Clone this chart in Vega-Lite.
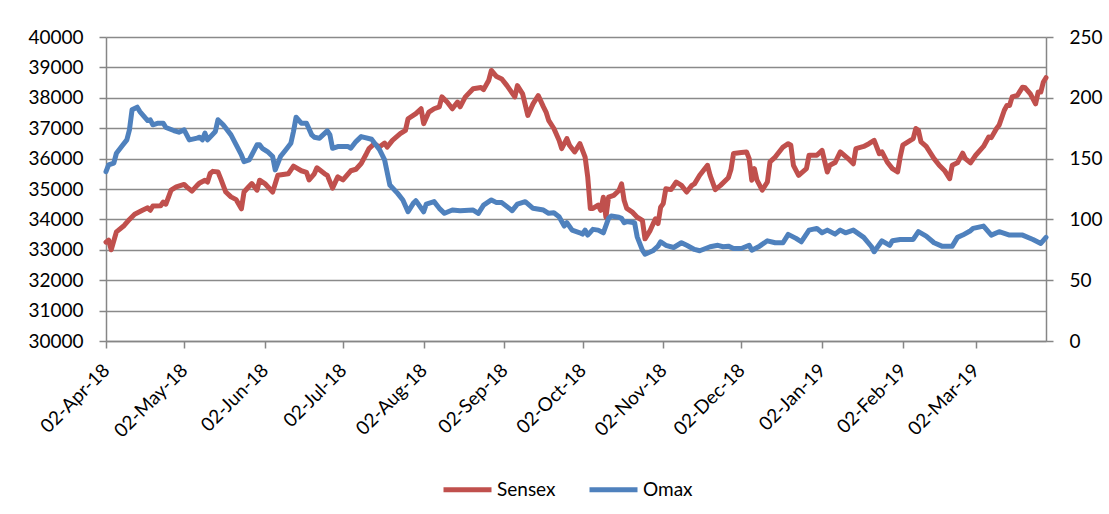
{
"$schema": "https://vega.github.io/schema/vega-lite/v6.json",
"width": 940, "height": 304,
"autosize": {"type": "none"},
"padding": {"left": 106, "top": 37, "right": 63, "bottom": 173},
"background": "white",
"config": {
  "font": "Lato",
  "view": {"stroke": null},
  "axis": {"domainColor": "#868686", "domainWidth": 1.5, "tickColor": "#868686", "tickWidth": 1.5, "gridColor": "#8a8a8a", "gridWidth": 1.5, "labelColor": "#000000", "labelFont": "Lato", "labelFontSize": 19, "title": null, "labelPadding": 16, "tickSize": 7},
  "legend": {"orient": "none", "legendX": 335, "legendY": 426, "direction": "horizontal", "title": null, "symbolType": "stroke", "symbolSize": 2304, "symbolStrokeWidth": 5, "labelFont": "Lato", "labelFontSize": 19, "labelColor": "#000000", "columnPadding": 23, "labelOffset": 3, "padding": 0}
},
"data": {"values": [
{"date":"2018-04-02","series":"Sensex","value":33250},{"date":"2018-04-03","series":"Sensex","value":33320},{"date":"2018-04-04","series":"Sensex","value":33000},{"date":"2018-04-06","series":"Sensex","value":33590},{"date":"2018-04-09","series":"Sensex","value":33800},{"date":"2018-04-11","series":"Sensex","value":34000},{"date":"2018-04-13","series":"Sensex","value":34170},{"date":"2018-04-16","series":"Sensex","value":34300},{"date":"2018-04-18","series":"Sensex","value":34380},{"date":"2018-04-19","series":"Sensex","value":34300},{"date":"2018-04-20","series":"Sensex","value":34440},{"date":"2018-04-23","series":"Sensex","value":34450},{"date":"2018-04-24","series":"Sensex","value":34570},{"date":"2018-04-25","series":"Sensex","value":34500},{"date":"2018-04-27","series":"Sensex","value":34960},{"date":"2018-04-29","series":"Sensex","value":35070},{"date":"2018-05-02","series":"Sensex","value":35150},{"date":"2018-05-03","series":"Sensex","value":35070},{"date":"2018-05-05","series":"Sensex","value":34930},{"date":"2018-05-07","series":"Sensex","value":35120},{"date":"2018-05-08","series":"Sensex","value":35200},{"date":"2018-05-10","series":"Sensex","value":35290},{"date":"2018-05-11","series":"Sensex","value":35230},{"date":"2018-05-12","series":"Sensex","value":35510},{"date":"2018-05-13","series":"Sensex","value":35580},{"date":"2018-05-15","series":"Sensex","value":35560},{"date":"2018-05-16","series":"Sensex","value":35350},{"date":"2018-05-18","series":"Sensex","value":34900},{"date":"2018-05-20","series":"Sensex","value":34740},{"date":"2018-05-22","series":"Sensex","value":34650},{"date":"2018-05-24","series":"Sensex","value":34350},{"date":"2018-05-25","series":"Sensex","value":34900},{"date":"2018-05-27","series":"Sensex","value":35090},{"date":"2018-05-28","series":"Sensex","value":35180},{"date":"2018-05-30","series":"Sensex","value":34960},{"date":"2018-05-31","series":"Sensex","value":35290},{"date":"2018-06-02","series":"Sensex","value":35180},{"date":"2018-06-05","series":"Sensex","value":34900},{"date":"2018-06-07","series":"Sensex","value":35450},{"date":"2018-06-11","series":"Sensex","value":35500},{"date":"2018-06-13","series":"Sensex","value":35750},{"date":"2018-06-16","series":"Sensex","value":35600},{"date":"2018-06-18","series":"Sensex","value":35550},{"date":"2018-06-19","series":"Sensex","value":35300},{"date":"2018-06-21","series":"Sensex","value":35500},{"date":"2018-06-22","series":"Sensex","value":35700},{"date":"2018-06-25","series":"Sensex","value":35500},{"date":"2018-06-26","series":"Sensex","value":35450},{"date":"2018-06-28","series":"Sensex","value":35030},{"date":"2018-06-30","series":"Sensex","value":35400},{"date":"2018-07-02","series":"Sensex","value":35300},{"date":"2018-07-05","series":"Sensex","value":35600},{"date":"2018-07-07","series":"Sensex","value":35650},{"date":"2018-07-09","series":"Sensex","value":35840},{"date":"2018-07-11","series":"Sensex","value":36160},{"date":"2018-07-12","series":"Sensex","value":36330},{"date":"2018-07-14","series":"Sensex","value":36490},{"date":"2018-07-16","series":"Sensex","value":36380},{"date":"2018-07-18","series":"Sensex","value":36510},{"date":"2018-07-19","series":"Sensex","value":36380},{"date":"2018-07-21","series":"Sensex","value":36600},{"date":"2018-07-24","series":"Sensex","value":36820},{"date":"2018-07-26","series":"Sensex","value":36930},{"date":"2018-07-27","series":"Sensex","value":37310},{"date":"2018-07-30","series":"Sensex","value":37480},{"date":"2018-08-01","series":"Sensex","value":37640},{"date":"2018-08-02","series":"Sensex","value":37150},{"date":"2018-08-04","series":"Sensex","value":37530},{"date":"2018-08-06","series":"Sensex","value":37640},{"date":"2018-08-08","series":"Sensex","value":37700},{"date":"2018-08-09","series":"Sensex","value":38030},{"date":"2018-08-11","series":"Sensex","value":37860},{"date":"2018-08-13","series":"Sensex","value":37640},{"date":"2018-08-15","series":"Sensex","value":37860},{"date":"2018-08-16","series":"Sensex","value":37700},{"date":"2018-08-18","series":"Sensex","value":38030},{"date":"2018-08-21","series":"Sensex","value":38300},{"date":"2018-08-24","series":"Sensex","value":38340},{"date":"2018-08-25","series":"Sensex","value":38270},{"date":"2018-08-27","series":"Sensex","value":38580},{"date":"2018-08-28","series":"Sensex","value":38900},{"date":"2018-08-30","series":"Sensex","value":38700},{"date":"2018-09-01","series":"Sensex","value":38620},{"date":"2018-09-03","series":"Sensex","value":38400},{"date":"2018-09-06","series":"Sensex","value":38030},{"date":"2018-09-07","series":"Sensex","value":38400},{"date":"2018-09-09","series":"Sensex","value":38130},{"date":"2018-09-11","series":"Sensex","value":37420},{"date":"2018-09-13","series":"Sensex","value":37800},{"date":"2018-09-15","series":"Sensex","value":38070},{"date":"2018-09-17","series":"Sensex","value":37700},{"date":"2018-09-18","series":"Sensex","value":37530},{"date":"2018-09-19","series":"Sensex","value":37260},{"date":"2018-09-21","series":"Sensex","value":36990},{"date":"2018-09-23","series":"Sensex","value":36600},{"date":"2018-09-24","series":"Sensex","value":36330},{"date":"2018-09-26","series":"Sensex","value":36660},{"date":"2018-09-27","series":"Sensex","value":36440},{"date":"2018-09-29","series":"Sensex","value":36220},{"date":"2018-10-01","series":"Sensex","value":36490},{"date":"2018-10-03","series":"Sensex","value":36050},{"date":"2018-10-04","series":"Sensex","value":35400},{"date":"2018-10-05","series":"Sensex","value":34360},{"date":"2018-10-06","series":"Sensex","value":34360},{"date":"2018-10-08","series":"Sensex","value":34470},{"date":"2018-10-09","series":"Sensex","value":34300},{"date":"2018-10-10","series":"Sensex","value":34730},{"date":"2018-10-11","series":"Sensex","value":34070},{"date":"2018-10-12","series":"Sensex","value":34730},{"date":"2018-10-14","series":"Sensex","value":34790},{"date":"2018-10-16","series":"Sensex","value":34950},{"date":"2018-10-17","series":"Sensex","value":35170},{"date":"2018-10-18","series":"Sensex","value":34620},{"date":"2018-10-19","series":"Sensex","value":34360},{"date":"2018-10-21","series":"Sensex","value":34250},{"date":"2018-10-23","series":"Sensex","value":34070},{"date":"2018-10-25","series":"Sensex","value":33970},{"date":"2018-10-26","series":"Sensex","value":33360},{"date":"2018-10-28","series":"Sensex","value":33640},{"date":"2018-10-30","series":"Sensex","value":34020},{"date":"2018-10-31","series":"Sensex","value":33860},{"date":"2018-11-01","series":"Sensex","value":34400},{"date":"2018-11-02","series":"Sensex","value":34520},{"date":"2018-11-03","series":"Sensex","value":35010},{"date":"2018-11-05","series":"Sensex","value":34980},{"date":"2018-11-07","series":"Sensex","value":35230},{"date":"2018-11-09","series":"Sensex","value":35120},{"date":"2018-11-11","series":"Sensex","value":34900},{"date":"2018-11-13","series":"Sensex","value":35120},{"date":"2018-11-14","series":"Sensex","value":35170},{"date":"2018-11-16","series":"Sensex","value":35450},{"date":"2018-11-19","series":"Sensex","value":35780},{"date":"2018-11-20","series":"Sensex","value":35450},{"date":"2018-11-22","series":"Sensex","value":34980},{"date":"2018-11-24","series":"Sensex","value":35120},{"date":"2018-11-27","series":"Sensex","value":35370},{"date":"2018-11-28","series":"Sensex","value":35640},{"date":"2018-11-29","series":"Sensex","value":36170},{"date":"2018-12-02","series":"Sensex","value":36200},{"date":"2018-12-04","series":"Sensex","value":36220},{"date":"2018-12-05","series":"Sensex","value":36000},{"date":"2018-12-06","series":"Sensex","value":35290},{"date":"2018-12-07","series":"Sensex","value":35670},{"date":"2018-12-08","series":"Sensex","value":35290},{"date":"2018-12-10","series":"Sensex","value":34960},{"date":"2018-12-12","series":"Sensex","value":35230},{"date":"2018-12-13","series":"Sensex","value":35890},{"date":"2018-12-15","series":"Sensex","value":36050},{"date":"2018-12-18","series":"Sensex","value":36380},{"date":"2018-12-20","series":"Sensex","value":36490},{"date":"2018-12-21","series":"Sensex","value":36440},{"date":"2018-12-22","series":"Sensex","value":35780},{"date":"2018-12-24","series":"Sensex","value":35450},{"date":"2018-12-27","series":"Sensex","value":35670},{"date":"2018-12-28","series":"Sensex","value":36110},{"date":"2018-12-31","series":"Sensex","value":36110},{"date":"2019-01-02","series":"Sensex","value":36270},{"date":"2019-01-04","series":"Sensex","value":35560},{"date":"2019-01-05","series":"Sensex","value":35780},{"date":"2019-01-07","series":"Sensex","value":35870},{"date":"2019-01-09","series":"Sensex","value":36220},{"date":"2019-01-12","series":"Sensex","value":36000},{"date":"2019-01-14","series":"Sensex","value":35830},{"date":"2019-01-15","series":"Sensex","value":36330},{"date":"2019-01-18","series":"Sensex","value":36400},{"date":"2019-01-20","series":"Sensex","value":36490},{"date":"2019-01-22","series":"Sensex","value":36600},{"date":"2019-01-24","series":"Sensex","value":36160},{"date":"2019-01-25","series":"Sensex","value":36220},{"date":"2019-01-27","series":"Sensex","value":35890},{"date":"2019-01-29","series":"Sensex","value":35670},{"date":"2019-01-31","series":"Sensex","value":35560},{"date":"2019-02-01","series":"Sensex","value":36050},{"date":"2019-02-02","series":"Sensex","value":36440},{"date":"2019-02-04","series":"Sensex","value":36550},{"date":"2019-02-06","series":"Sensex","value":36660},{"date":"2019-02-07","series":"Sensex","value":36990},{"date":"2019-02-08","series":"Sensex","value":36930},{"date":"2019-02-09","series":"Sensex","value":36550},{"date":"2019-02-11","series":"Sensex","value":36400},{"date":"2019-02-14","series":"Sensex","value":36000},{"date":"2019-02-16","series":"Sensex","value":35780},{"date":"2019-02-18","series":"Sensex","value":35610},{"date":"2019-02-20","series":"Sensex","value":35340},{"date":"2019-02-21","series":"Sensex","value":35780},{"date":"2019-02-23","series":"Sensex","value":35860},{"date":"2019-02-25","series":"Sensex","value":36180},{"date":"2019-02-26","series":"Sensex","value":36000},{"date":"2019-02-28","series":"Sensex","value":35860},{"date":"2019-03-02","series":"Sensex","value":36110},{"date":"2019-03-05","series":"Sensex","value":36400},{"date":"2019-03-07","series":"Sensex","value":36710},{"date":"2019-03-08","series":"Sensex","value":36690},{"date":"2019-03-10","series":"Sensex","value":36990},{"date":"2019-03-11","series":"Sensex","value":37100},{"date":"2019-03-13","series":"Sensex","value":37590},{"date":"2019-03-14","series":"Sensex","value":37750},{"date":"2019-03-15","series":"Sensex","value":37750},{"date":"2019-03-16","series":"Sensex","value":38030},{"date":"2019-03-18","series":"Sensex","value":38080},{"date":"2019-03-20","series":"Sensex","value":38350},{"date":"2019-03-21","series":"Sensex","value":38330},{"date":"2019-03-23","series":"Sensex","value":38130},{"date":"2019-03-25","series":"Sensex","value":37800},{"date":"2019-03-26","series":"Sensex","value":38190},{"date":"2019-03-27","series":"Sensex","value":38190},{"date":"2019-03-28","series":"Sensex","value":38520},{"date":"2019-03-29","series":"Sensex","value":38660},
{"date":"2018-04-02","series":"Omax","value":139.3},{"date":"2018-04-03","series":"Omax","value":144.8},{"date":"2018-04-05","series":"Omax","value":146.2},{"date":"2018-04-06","series":"Omax","value":154.4},{"date":"2018-04-08","series":"Omax","value":159.9},{"date":"2018-04-10","series":"Omax","value":165.4},{"date":"2018-04-11","series":"Omax","value":173.6},{"date":"2018-04-12","series":"Omax","value":190.1},{"date":"2018-04-14","series":"Omax","value":192.3},{"date":"2018-04-15","series":"Omax","value":188.7},{"date":"2018-04-18","series":"Omax","value":181.3},{"date":"2018-04-19","series":"Omax","value":181.9},{"date":"2018-04-20","series":"Omax","value":177.8},{"date":"2018-04-22","series":"Omax","value":179.1},{"date":"2018-04-24","series":"Omax","value":179.1},{"date":"2018-04-25","series":"Omax","value":175.6},{"date":"2018-04-28","series":"Omax","value":173.1},{"date":"2018-04-30","series":"Omax","value":171.7},{"date":"2018-05-02","series":"Omax","value":173.6},{"date":"2018-05-04","series":"Omax","value":165.4},{"date":"2018-05-07","series":"Omax","value":166.8},{"date":"2018-05-08","series":"Omax","value":167.6},{"date":"2018-05-09","series":"Omax","value":165.4},{"date":"2018-05-10","series":"Omax","value":170.9},{"date":"2018-05-11","series":"Omax","value":165.4},{"date":"2018-05-14","series":"Omax","value":172.3},{"date":"2018-05-15","series":"Omax","value":181.9},{"date":"2018-05-17","series":"Omax","value":177.8},{"date":"2018-05-20","series":"Omax","value":169.5},{"date":"2018-05-22","series":"Omax","value":161.3},{"date":"2018-05-24","series":"Omax","value":153.0},{"date":"2018-05-25","series":"Omax","value":147.5},{"date":"2018-05-27","series":"Omax","value":148.9},{"date":"2018-05-28","series":"Omax","value":153.0},{"date":"2018-05-30","series":"Omax","value":161.3},{"date":"2018-05-31","series":"Omax","value":161.3},{"date":"2018-06-01","series":"Omax","value":158.5},{"date":"2018-06-03","series":"Omax","value":155.8},{"date":"2018-06-05","series":"Omax","value":151.7},{"date":"2018-06-06","series":"Omax","value":140.7},{"date":"2018-06-08","series":"Omax","value":151.7},{"date":"2018-06-10","series":"Omax","value":157.1},{"date":"2018-06-12","series":"Omax","value":162.6},{"date":"2018-06-13","series":"Omax","value":172.3},{"date":"2018-06-14","series":"Omax","value":184.0},{"date":"2018-06-16","series":"Omax","value":179.1},{"date":"2018-06-18","series":"Omax","value":179.1},{"date":"2018-06-20","series":"Omax","value":169.5},{"date":"2018-06-21","series":"Omax","value":167.6},{"date":"2018-06-23","series":"Omax","value":166.8},{"date":"2018-06-26","series":"Omax","value":172.8},{"date":"2018-06-27","series":"Omax","value":169.5},{"date":"2018-06-28","series":"Omax","value":158.5},{"date":"2018-06-30","series":"Omax","value":159.9},{"date":"2018-07-04","series":"Omax","value":159.9},{"date":"2018-07-05","series":"Omax","value":158.5},{"date":"2018-07-07","series":"Omax","value":164.0},{"date":"2018-07-09","series":"Omax","value":168.1},{"date":"2018-07-13","series":"Omax","value":165.9},{"date":"2018-07-16","series":"Omax","value":157.5},{"date":"2018-07-18","series":"Omax","value":148.9},{"date":"2018-07-20","series":"Omax","value":128.3},{"date":"2018-07-23","series":"Omax","value":121.4},{"date":"2018-07-25","series":"Omax","value":116.0},{"date":"2018-07-27","series":"Omax","value":106.3},{"date":"2018-07-29","series":"Omax","value":113.2},{"date":"2018-07-30","series":"Omax","value":115.4},{"date":"2018-08-02","series":"Omax","value":106.3},{"date":"2018-08-03","series":"Omax","value":112.6},{"date":"2018-08-06","series":"Omax","value":114.6},{"date":"2018-08-08","series":"Omax","value":109.1},{"date":"2018-08-10","series":"Omax","value":105.0},{"date":"2018-08-13","series":"Omax","value":107.7},{"date":"2018-08-16","series":"Omax","value":107.2},{"date":"2018-08-21","series":"Omax","value":107.7},{"date":"2018-08-23","series":"Omax","value":105.0},{"date":"2018-08-25","series":"Omax","value":111.8},{"date":"2018-08-28","series":"Omax","value":116.0},{"date":"2018-08-30","series":"Omax","value":113.8},{"date":"2018-09-01","series":"Omax","value":113.8},{"date":"2018-09-03","series":"Omax","value":110.5},{"date":"2018-09-05","series":"Omax","value":107.2},{"date":"2018-09-07","series":"Omax","value":112.6},{"date":"2018-09-10","series":"Omax","value":114.6},{"date":"2018-09-13","series":"Omax","value":109.1},{"date":"2018-09-17","series":"Omax","value":107.7},{"date":"2018-09-19","series":"Omax","value":105.0},{"date":"2018-09-21","series":"Omax","value":105.5},{"date":"2018-09-23","series":"Omax","value":102.2},{"date":"2018-09-25","series":"Omax","value":94.5},{"date":"2018-09-26","series":"Omax","value":97.3},{"date":"2018-09-28","series":"Omax","value":91.2},{"date":"2018-10-01","series":"Omax","value":89.0},{"date":"2018-10-02","series":"Omax","value":87.9},{"date":"2018-10-03","series":"Omax","value":91.2},{"date":"2018-10-04","series":"Omax","value":87.1},{"date":"2018-10-06","series":"Omax","value":91.8},{"date":"2018-10-08","series":"Omax","value":91.2},{"date":"2018-10-10","series":"Omax","value":89.0},{"date":"2018-10-12","series":"Omax","value":100.8},{"date":"2018-10-13","series":"Omax","value":102.8},{"date":"2018-10-16","series":"Omax","value":101.7},{"date":"2018-10-17","series":"Omax","value":100.8},{"date":"2018-10-18","series":"Omax","value":97.3},{"date":"2018-10-19","series":"Omax","value":98.2},{"date":"2018-10-22","series":"Omax","value":97.3},{"date":"2018-10-23","series":"Omax","value":85.7},{"date":"2018-10-25","series":"Omax","value":74.7},{"date":"2018-10-26","series":"Omax","value":71.4},{"date":"2018-10-29","series":"Omax","value":74.2},{"date":"2018-10-31","series":"Omax","value":78.0},{"date":"2018-11-01","series":"Omax","value":81.6},{"date":"2018-11-03","series":"Omax","value":78.7},{"date":"2018-11-06","series":"Omax","value":76.9},{"date":"2018-11-09","series":"Omax","value":80.8},{"date":"2018-11-11","series":"Omax","value":78.7},{"date":"2018-11-14","series":"Omax","value":75.3},{"date":"2018-11-16","series":"Omax","value":74.2},{"date":"2018-11-20","series":"Omax","value":77.5},{"date":"2018-11-23","series":"Omax","value":78.7},{"date":"2018-11-25","series":"Omax","value":77.5},{"date":"2018-11-27","series":"Omax","value":78.0},{"date":"2018-11-29","series":"Omax","value":76.1},{"date":"2018-12-02","series":"Omax","value":76.1},{"date":"2018-12-05","series":"Omax","value":78.7},{"date":"2018-12-06","series":"Omax","value":74.7},{"date":"2018-12-09","series":"Omax","value":78.0},{"date":"2018-12-12","series":"Omax","value":82.4},{"date":"2018-12-15","series":"Omax","value":80.8},{"date":"2018-12-18","series":"Omax","value":80.8},{"date":"2018-12-20","series":"Omax","value":87.7},{"date":"2018-12-23","series":"Omax","value":84.4},{"date":"2018-12-25","series":"Omax","value":81.6},{"date":"2018-12-28","series":"Omax","value":91.2},{"date":"2018-12-31","series":"Omax","value":92.6},{"date":"2019-01-02","series":"Omax","value":89.0},{"date":"2019-01-04","series":"Omax","value":91.2},{"date":"2019-01-07","series":"Omax","value":87.9},{"date":"2019-01-09","series":"Omax","value":91.2},{"date":"2019-01-11","series":"Omax","value":89.0},{"date":"2019-01-14","series":"Omax","value":91.2},{"date":"2019-01-18","series":"Omax","value":85.2},{"date":"2019-01-21","series":"Omax","value":77.5},{"date":"2019-01-22","series":"Omax","value":73.4},{"date":"2019-01-25","series":"Omax","value":82.4},{"date":"2019-01-28","series":"Omax","value":78.7},{"date":"2019-01-29","series":"Omax","value":82.4},{"date":"2019-02-01","series":"Omax","value":83.5},{"date":"2019-02-06","series":"Omax","value":83.5},{"date":"2019-02-08","series":"Omax","value":89.9},{"date":"2019-02-11","series":"Omax","value":86.3},{"date":"2019-02-14","series":"Omax","value":80.8},{"date":"2019-02-17","series":"Omax","value":78.0},{"date":"2019-02-21","series":"Omax","value":78.0},{"date":"2019-02-23","series":"Omax","value":85.2},{"date":"2019-02-25","series":"Omax","value":87.1},{"date":"2019-02-28","series":"Omax","value":90.7},{"date":"2019-03-01","series":"Omax","value":92.6},{"date":"2019-03-05","series":"Omax","value":94.5},{"date":"2019-03-08","series":"Omax","value":87.1},{"date":"2019-03-11","series":"Omax","value":89.9},{"date":"2019-03-15","series":"Omax","value":87.1},{"date":"2019-03-20","series":"Omax","value":87.1},{"date":"2019-03-24","series":"Omax","value":83.5},{"date":"2019-03-27","series":"Omax","value":80.2},{"date":"2019-03-29","series":"Omax","value":85.2}
]},
"encoding": {
  "x": {"field": "date", "type": "temporal",
    "scale": {"type": "utc", "domain": [{"year": 2018, "month": 4, "date": 2, "utc": true}, {"year": 2019, "month": 3, "date": 29, "utc": true}]},
    "axis": {"format": "%d-%b-%y", "labelAngle": -45, "labelAlign": "right", "labelBaseline": "middle", "labelPadding": 19, "grid": false, "labelOverlap": false, "labelBound": false, "labelFlush": false,
      "values": [{"year":2018,"month":4,"date":2,"utc":true},{"year":2018,"month":5,"date":2,"utc":true},{"year":2018,"month":6,"date":2,"utc":true},{"year":2018,"month":7,"date":2,"utc":true},{"year":2018,"month":8,"date":2,"utc":true},{"year":2018,"month":9,"date":2,"utc":true},{"year":2018,"month":10,"date":2,"utc":true},{"year":2018,"month":11,"date":2,"utc":true},{"year":2018,"month":12,"date":2,"utc":true},{"year":2019,"month":1,"date":2,"utc":true},{"year":2019,"month":2,"date":2,"utc":true},{"year":2019,"month":3,"date":2,"utc":true}]}},
  "color": {"field": "series", "type": "nominal", "scale": {"domain": ["Sensex", "Omax"], "range": ["#C0504D", "#4F81BD"]}}
},
"layer": [
  {"transform": [{"filter": "datum.series === 'Sensex'"}],
   "mark": {"type": "line", "strokeWidth": 5, "strokeJoin": "round", "strokeCap": "round"},
   "encoding": {"y": {"field": "value", "type": "quantitative", "scale": {"domain": [30000, 40000], "nice": false, "zero": false},
     "axis": {"orient": "left", "values": [30000,31000,32000,33000,34000,35000,36000,37000,38000,39000,40000], "format": "d", "grid": true}}}},
  {"transform": [{"filter": "datum.series === 'Omax'"}],
   "mark": {"type": "line", "strokeWidth": 5, "strokeJoin": "round", "strokeCap": "round"},
   "encoding": {"y": {"field": "value", "type": "quantitative", "scale": {"domain": [0, 250], "nice": false},
     "axis": {"orient": "right", "values": [0,50,100,150,200,250], "format": "d", "grid": false}}}}
],
"resolve": {"scale": {"y": "independent"}, "axis": {"y": "independent"}}
}
